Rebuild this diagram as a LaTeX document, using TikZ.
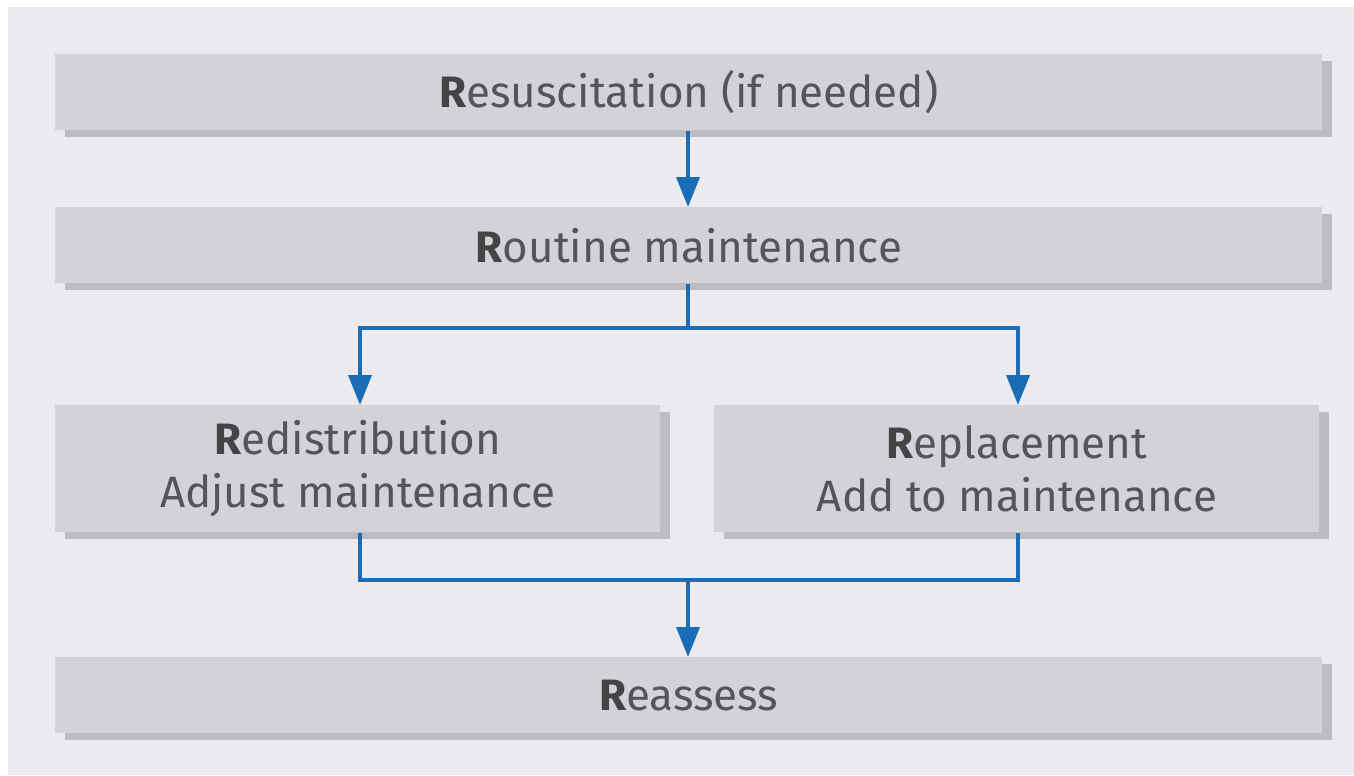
\documentclass[tikz,border=0pt]{standalone}
\usepackage{fontspec}
\setmainfont{Fira Sans}
\usetikzlibrary{positioning, arrows.meta, shadows}
\definecolor{panelgray}{HTML}{EBEAEE}
\definecolor{boxgray}{HTML}{D3D2D7}
\definecolor{shadegray}{HTML}{BDBCC2}
\definecolor{flowblue}{HTML}{1A6DB5}
\definecolor{textgray}{HTML}{555458}
\tikzset{%
  stage/.style={rectangle, fill=boxgray, inner sep=0pt, align=center,
    text=textgray, font=\fontsize{25}{30}\selectfont,
    drop shadow={shadow xshift=5.7pt, shadow yshift=-4pt, fill=shadegray, opacity=1}},
  wide/.style={stage, minimum width=1267*0.02cm, minimum height=76*0.02cm},
  half/.style={stage, minimum width=605*0.02cm, minimum height=127*0.02cm},
  flow/.style={draw=flowblue, line width=2.3pt},
  flowarrow/.style={flow, -{Triangle[length=17pt, width=13pt]}}
}
\newcommand{\Rlead}{{\bfseries\color{textgray!80!black}R}}

\begin{document}
\begin{tikzpicture}[x=0.02cm, y=-0.02cm]
  \useasboundingbox (0,0) rectangle (1354,775);
  \fill[white] (0,0) rectangle (1354,775);
  \fill[panelgray] (8,7) rectangle (1354,775);

  \node[wide, anchor=north west] (resus) at (55,54) {\Rlead esuscitation (if needed)};
  \node[wide, anchor=north west] (routine) at (55,207) {\Rlead outine maintenance};
  \node[half, anchor=north west] (redist) at (55,405) {\Rlead edistribution\\Adjust maintenance};
  \node[half, anchor=north west] (replace) at (714,405) {\Rlead eplacement\\Add to maintenance};
  \node[wide, anchor=north west] (reassess) at (55,657) {\Rlead eassess};

  \coordinate (split) at (688,328);
  \coordinate (join) at (688,580);

  \draw[flowarrow] (resus.south -| split) -- (routine.north -| split);
  \draw[flow] (routine.south -| split) -- (split);
  \draw[flowarrow] (split) -| (redist.north -| 360,0);
  \draw[flowarrow] (split) -| (replace.north -| 1018,0);
  \draw[flow] (redist.south -| 360,0) |- (join) -| (replace.south -| 1018,0);
  \draw[flowarrow] (join) -- (reassess.north -| join);
\end{tikzpicture}
\end{document}
